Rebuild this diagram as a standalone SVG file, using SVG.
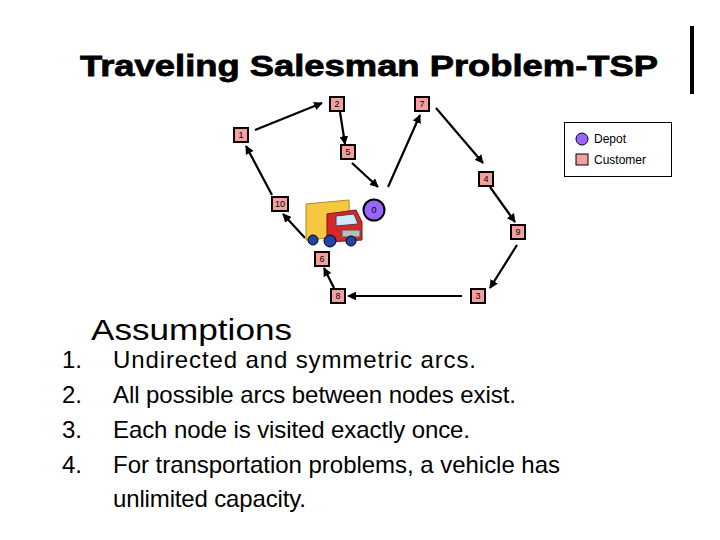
<svg xmlns="http://www.w3.org/2000/svg" width="720" height="540" viewBox="0 0 720 540">
<style>
.n rect{fill:#f4a0a0;stroke:#000;stroke-width:2}
.n text{font-family:"Liberation Sans",Arial,sans-serif;font-size:9px;text-anchor:middle;fill:#000}
.c line{stroke:#000;stroke-width:2.2;marker-end:url(#a)}
.t{font-family:"Liberation Sans",Arial,sans-serif;fill:#000}
</style>
<defs><marker id="a" viewBox="0 0 10 10" refX="9" refY="5" markerWidth="4" markerHeight="4" orient="auto"><path d="M0,0L10,5L0,10z" fill="#000"/></marker></defs>
<rect width="720" height="540" fill="#fff"/>
<text class="t" x="80" y="76" font-size="30" font-weight="bold" stroke="#000" stroke-width="0.8" textLength="578" lengthAdjust="spacingAndGlyphs">Traveling Salesman Problem-TSP</text>
<rect x="690" y="26" width="4" height="68" fill="#000"/>
<g id="legend">
<rect x="564.500" y="122.500" width="107" height="54" fill="#fff" stroke="#000"/>
<circle cx="582" cy="139" r="6" fill="#9966ff" stroke="#000"/>
<rect x="576" y="154" width="12" height="11" fill="#f4a0a0" stroke="#000"/>
<text class="t" x="594" y="143" font-size="12">Depot</text>
<text class="t" x="594" y="164" font-size="12">Customer</text>
</g>
<g id="connectors" class="c">
<line x1="255" y1="130" x2="322" y2="103"/>
<line x1="340" y1="112" x2="345" y2="144"/>
<line x1="352" y1="163" x2="378" y2="187"/>
<line x1="388" y1="187" x2="420" y2="115"/>
<line x1="436" y1="108" x2="483" y2="163"/>
<line x1="490" y1="187" x2="515" y2="222"/>
<line x1="517" y1="245" x2="490" y2="288"/>
<line x1="462" y1="296" x2="348" y2="296"/>
<line x1="334" y1="288" x2="324" y2="268"/>
<line x1="305" y1="238" x2="283" y2="214"/>
<line x1="272" y1="195" x2="246" y2="146"/>
</g>
<g id="truck">
<path d="M306,204 L349,200 L350,236 L306,240 Z" fill="#f5c842" stroke="#b08a20"/>
<path d="M327,214 L356,210 L362,222 L362,240 L327,242 Z" fill="#d62828" stroke="#801010"/>
<path d="M336,216 L354,214 L358,224 L336,226 Z" fill="#cfe8ff" stroke="#444"/>
<rect x="342" y="230" width="18" height="7" fill="#bbb" stroke="#555"/>
<circle cx="313" cy="240" r="5" fill="#2244aa" stroke="#000"/>
<circle cx="330" cy="241" r="6" fill="#2244aa" stroke="#000"/>
<circle cx="351" cy="241" r="5" fill="#2244aa" stroke="#000"/>
</g>
<g id="n0"><circle cx="374" cy="210" r="10.500" fill="#9966ff" stroke="#000" stroke-width="2"/><text class="t" x="374" y="213" font-size="9" text-anchor="middle">0</text></g>
<g id="n1" class="n"><rect x="234" y="128" width="14" height="14"/><text x="241" y="138">1</text></g>
<g id="n2" class="n"><rect x="330" y="97" width="14" height="14"/><text x="337" y="107">2</text></g>
<g id="n7" class="n"><rect x="415" y="97" width="14" height="14"/><text x="422" y="107">7</text></g>
<g id="n5" class="n"><rect x="341" y="145" width="14" height="14"/><text x="348" y="155">5</text></g>
<g id="n4" class="n"><rect x="479" y="172" width="14" height="14"/><text x="486" y="182">4</text></g>
<g id="n10" class="n"><rect x="272" y="197" width="16" height="14"/><text x="280" y="207">10</text></g>
<g id="n9" class="n"><rect x="511" y="225" width="14" height="14"/><text x="518" y="235">9</text></g>
<g id="n6" class="n"><rect x="315" y="252" width="14" height="14"/><text x="322" y="262">6</text></g>
<g id="n8" class="n"><rect x="331" y="289" width="14" height="14"/><text x="338" y="299">8</text></g>
<g id="n3" class="n"><rect x="471" y="289" width="14" height="14"/><text x="478" y="299">3</text></g>
<text class="t" x="91" y="340" font-size="29" textLength="201" lengthAdjust="spacingAndGlyphs">Assumptions</text>
<g class="t" font-size="24">
<text x="62" y="368">1.</text>
<text x="62" y="403">2.</text>
<text x="62" y="438">3.</text>
<text x="62" y="473">4.</text>
<text x="113" y="368" textLength="363">Undirected and symmetric arcs.</text>
<text x="113" y="403" textLength="403">All possible arcs between nodes exist.</text>
<text x="113" y="438" textLength="357">Each node is visited exactly once.</text>
<text x="113" y="473" textLength="447">For transportation problems, a vehicle has</text>
<text x="113" y="507" textLength="193">unlimited capacity.</text>
</g>
</svg>
